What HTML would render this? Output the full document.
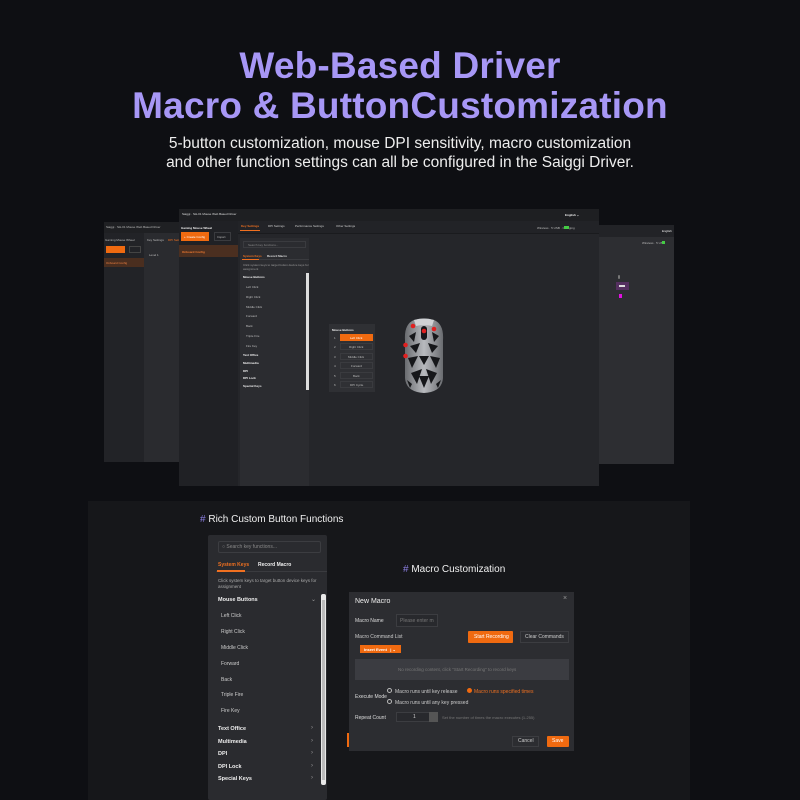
<!DOCTYPE html>
<html><head><meta charset="utf-8"><style>
*{margin:0;padding:0;box-sizing:border-box}
body{width:800px;height:800px;background:#0e0f13;position:relative;overflow:hidden;font-family:"Liberation Sans",sans-serif;color:#ddd}
.a{position:absolute}
.t{position:absolute;white-space:nowrap}
h1{position:absolute;left:0;width:800px;text-align:center;color:#a797f6;font-size:37px;font-weight:bold;line-height:40px;letter-spacing:0.2px}
.sub{position:absolute;left:0;width:800px;text-align:center;color:#eee;font-size:15.5px;line-height:19px}
.s{font-size:3px;color:#bbb}
.d7{font-size:5px;color:#ccc}
.bb{font-size:5.5px;color:#eee;font-weight:bold}
.chev{position:absolute;font-size:6px;color:#999}
</style></head><body>
<h1 style="top:46px">Web-Based Driver</h1>
<h1 style="top:86px">Macro &amp; ButtonCustomization</h1>
<div class="sub" style="top:134px">5-button customization, mouse DPI sensitivity, macro customization</div>
<div class="sub" style="top:153px">and other function settings can all be configured in the Saiggi Driver.</div>

<!-- left back window -->
<div class="a" style="left:104px;top:222px;width:80px;height:240px;background:#2a2b2f"></div>
<div class="a" style="left:104px;top:222px;width:80px;height:11px;background:#1f2023"></div>
<div class="t s" style="left:106px;top:225px">Saiggi · SH-01 Mouse Web Based Driver</div>
<div class="a" style="left:104px;top:233px;width:40px;height:229px;background:#222327"></div>
<div class="t s" style="left:105px;top:238px">Gaming Mouse Wheel</div>
<div class="a" style="left:106px;top:246px;width:19px;height:7px;background:#f06a10"></div>
<div class="a" style="left:129px;top:246px;width:12px;height:7px;border:1px solid #444"></div>
<div class="a" style="left:104px;top:258px;width:40px;height:9px;background:#4a2e1f"></div>
<div class="t s" style="left:106px;top:261px;color:#f08040">Onboard Config</div>
<div class="t s" style="left:147px;top:238px">Key Settings</div>
<div class="t s" style="left:168px;top:238px;color:#f07020">DPI Settings</div>
<div class="t s" style="left:149px;top:253px">Level 1</div>

<!-- right back window -->
<div class="a" style="left:593px;top:225px;width:81px;height:239px;background:#2d2e32"></div>
<div class="a" style="left:593px;top:225px;width:81px;height:12px;background:#222327"></div>
<div class="t s" style="left:662px;top:229px;color:#eee">English</div>
<div class="t s" style="left:642px;top:241px">Wireless · 5 USB</div>
<div class="a" style="left:662px;top:241px;width:3px;height:3px;background:#4c4"></div>
<div class="a" style="left:616px;top:282px;width:13px;height:8px;background:#553060"></div>
<div class="a" style="left:619px;top:285px;width:6px;height:2px;background:#ddd"></div>
<div class="a" style="left:618px;top:275px;width:2px;height:4px;background:#777;border-radius:1px"></div>
<div class="a" style="left:619px;top:294px;width:3px;height:4px;background:#e010e0"></div>

<!-- main window -->
<div class="a" style="left:179px;top:209px;width:420px;height:277px;background:#25262a"></div>
<div class="a" style="left:179px;top:209px;width:420px;height:12px;background:#1e1f22"></div>
<div class="t s" style="left:182px;top:212px;color:#ddd">Saiggi · SH-01 Mouse Web Based Driver</div>
<div class="t s" style="left:565px;top:213px;color:#eee;font-weight:bold">English ⌄</div>
<div class="a" style="left:179px;top:221px;width:420px;height:13px;background:#222327;border-bottom:1px solid #1a1b1e"></div>
<div class="a" style="left:179px;top:221px;width:59px;height:265px;background:#202125"></div>
<div class="t s" style="left:181px;top:226px;color:#eee;font-weight:bold">Gaming Mouse Wheel</div>
<div class="a" style="left:181px;top:232px;width:28px;height:9px;background:#f06a10"></div>
<div class="t s" style="left:184px;top:235px;color:#fff">+ Create Config</div>
<div class="a" style="left:214px;top:232px;width:17px;height:9px;border:1px solid #3a3b3f"></div>
<div class="t s" style="left:217px;top:235px">Import</div>
<div class="a" style="left:179px;top:245px;width:59px;height:12px;background:#4b2f20"></div>
<div class="t s" style="left:182px;top:250px;color:#f07a30;font-weight:bold">Onboard Config</div>
<div class="t s" style="left:241px;top:224px;color:#f07020;font-weight:bold">Key Settings</div>
<div class="a" style="left:240px;top:230px;width:20px;height:1px;background:#f07020"></div>
<div class="t s" style="left:268px;top:224px;color:#ccc">DPI Settings</div>
<div class="t s" style="left:295px;top:224px;color:#ccc">Performance Settings</div>
<div class="t s" style="left:336px;top:224px;color:#ccc">Other Settings</div>
<div class="t s" style="left:537px;top:226px">Wireless · 5 USB · Charging</div>
<div class="a" style="left:564px;top:226px;width:5px;height:3px;background:#4c4"></div>
<!-- key panel -->
<div class="a" style="left:240px;top:238px;width:69px;height:248px;background:#2b2c30"></div>
<div class="a" style="left:243px;top:241px;width:63px;height:7px;border:1px solid #3a3b3f"></div>
<div class="t s" style="left:248px;top:243px;color:#888">Search key functions...</div>
<div class="t s" style="left:243px;top:254px;color:#f07020;font-weight:bold">System Keys</div>
<div class="t s" style="left:267px;top:254px;color:#ddd;font-weight:bold">Record Macro</div>
<div class="a" style="left:242px;top:259px;width:67px;height:1px;background:#3a3b3f"></div>
<div class="a" style="left:242px;top:259px;width:17px;height:1px;background:#f07020"></div>
<div class="t s" style="left:243px;top:263px;color:#999">Click system keys to target button device keys for<br>assignment</div>
<div class="t s" style="left:243px;top:275px;color:#eee;font-weight:bold">Mouse Buttons</div>
<div class="t s" style="left:246px;top:285px">Left Click</div>
<div class="t s" style="left:246px;top:295px">Right Click</div>
<div class="t s" style="left:246px;top:305px">Middle Click</div>
<div class="t s" style="left:246px;top:314px">Forward</div>
<div class="t s" style="left:246px;top:324px">Back</div>
<div class="t s" style="left:246px;top:334px">Triple Fire</div>
<div class="t s" style="left:246px;top:344px">Fire Key</div>
<div class="t s" style="left:243px;top:353px;color:#eee;font-weight:bold">Text Office</div>
<div class="t s" style="left:243px;top:361px;color:#eee;font-weight:bold">Multimedia</div>
<div class="t s" style="left:243px;top:369px;color:#eee;font-weight:bold">DPI</div>
<div class="t s" style="left:243px;top:376px;color:#eee;font-weight:bold">DPI Lock</div>
<div class="t s" style="left:243px;top:384px;color:#eee;font-weight:bold">Special Keys</div>
<div class="a" style="left:306px;top:273px;width:3px;height:117px;background:#ddd"></div>
<!-- popup -->
<div class="a" style="left:329px;top:324px;width:46px;height:68px;background:#2f3034"></div>
<div class="t s" style="left:332px;top:328px;color:#eee;font-weight:bold">Mouse Buttons</div>
<div class="a" style="left:340px;top:334px;width:33px;height:7px;background:#f06a10"></div>
<div class="t s" style="left:350px;top:336px;color:#fff">Left Click</div>
<div class="t s" style="left:334px;top:336px">1</div>
<div class="a" style="left:340px;top:343px;width:33px;height:7px;border:1px solid #3a3b3f"></div><div class="t s" style="left:334px;top:345px">2</div><div class="t s" style="left:349px;top:345px">Right Click</div>
<div class="a" style="left:340px;top:353px;width:33px;height:7px;border:1px solid #3a3b3f"></div><div class="t s" style="left:334px;top:355px">3</div><div class="t s" style="left:348px;top:355px">Middle Click</div>
<div class="a" style="left:340px;top:362px;width:33px;height:7px;border:1px solid #3a3b3f"></div><div class="t s" style="left:334px;top:364px">4</div><div class="t s" style="left:351px;top:364px">Forward</div>
<div class="a" style="left:340px;top:372px;width:33px;height:7px;border:1px solid #3a3b3f"></div><div class="t s" style="left:334px;top:374px">5</div><div class="t s" style="left:353px;top:374px">Back</div>
<div class="a" style="left:340px;top:381px;width:33px;height:7px;border:1px solid #3a3b3f"></div><div class="t s" style="left:334px;top:383px">6</div><div class="t s" style="left:350px;top:383px">DPI Cycle</div>
<!-- mouse -->
<svg class="a" style="left:402px;top:318px" width="44" height="76" viewBox="0 0 44 76">
<defs><linearGradient id="g" x1="0" x2="1"><stop offset="0" stop-color="#6a6c70"/><stop offset="0.5" stop-color="#b8babe"/><stop offset="1" stop-color="#6a6c70"/></linearGradient></defs>
<path d="M12 2 Q22 -1 32 2 Q42 6 41 22 L41 60 Q40 74 22 75 Q4 74 3 60 L3 22 Q2 6 12 2Z" fill="url(#g)"/>
<g fill="#16171a">
<path d="M7 18 L14 14 L12 24Z"/><path d="M37 18 L30 14 L32 24Z"/>
<path d="M8 28 L18 25 L14 35Z"/><path d="M36 28 L26 25 L30 35Z"/>
<path d="M6 40 L16 38 L10 50Z"/><path d="M38 40 L28 38 L34 50Z"/>
<path d="M17 38 L27 38 L22 47Z"/><path d="M9 55 L20 51 L15 66Z"/>
<path d="M35 55 L24 51 L29 66Z"/><path d="M17 58 L27 58 L22 70Z"/>
<path d="M5 62 L10 66 L8 70Z"/><path d="M39 62 L34 66 L36 70Z"/>
<rect x="19" y="8" width="6" height="14" rx="3"/>
</g>
<path d="M12 2 Q22 -1 32 2 L30 8 Q22 6 14 8Z" fill="#d0d2d5"/>
<g fill="#e02020"><circle cx="11" cy="8" r="2.3"/><circle cx="32" cy="11" r="2.3"/><circle cx="22" cy="13" r="2.3"/><circle cx="3.5" cy="27" r="2.3"/><circle cx="3.5" cy="38" r="2.3"/></g>
</svg>

<!-- bottom panel -->
<div class="a" style="left:88px;top:501px;width:602px;height:299px;background:#16171a"></div>
<div class="t" style="left:200px;top:514px;font-size:10px;color:#f0f0f0"><span style="color:#8a7ee0">#</span> Rich Custom Button Functions</div>
<div class="t" style="left:403px;top:564px;font-size:10px;color:#f0f0f0"><span style="color:#8a7ee0">#</span> Macro Customization</div>
<div class="a" style="left:208px;top:535px;width:119px;height:265px;background:#2a2b2f;border-radius:2px"></div>
<div class="a" style="left:218px;top:541px;width:103px;height:12px;border:1px solid #3c3d41;border-radius:2px"></div>
<div class="t" style="left:222px;top:544px;font-size:5px;color:#888">○ Search key functions...</div>
<div class="t d7" style="left:218px;top:562px;color:#f07020;font-weight:bold">System Keys</div>
<div class="t d7" style="left:258px;top:562px;color:#eee;font-weight:bold">Record Macro</div>
<div class="a" style="left:216px;top:571px;width:111px;height:1px;background:#3a3b3f"></div>
<div class="a" style="left:217px;top:570px;width:28px;height:2px;background:#f07020"></div>
<div class="t" style="left:218px;top:578px;font-size:4.5px;color:#aaa;line-height:6px">Click system keys to target button device keys for<br>assignment</div>
<div class="t bb" style="left:218px;top:597px">Mouse Buttons</div>
<div class="chev" style="left:311px;top:596px">⌄</div>
<div class="t d7" style="left:221px;top:613px">Left Click</div>
<div class="t d7" style="left:221px;top:629px">Right Click</div>
<div class="t d7" style="left:221px;top:645px">Middle Click</div>
<div class="t d7" style="left:221px;top:661px">Forward</div>
<div class="t d7" style="left:221px;top:677px">Back</div>
<div class="t d7" style="left:221px;top:692px">Triple Fire</div>
<div class="t d7" style="left:221px;top:708px">Fire Key</div>
<div class="t bb" style="left:218px;top:726px">Text Office</div>
<div class="t bb" style="left:218px;top:739px">Multimedia</div>
<div class="t bb" style="left:218px;top:751px">DPI</div>
<div class="t bb" style="left:218px;top:764px">DPI Lock</div>
<div class="t bb" style="left:218px;top:776px">Special Keys</div>
<div class="chev" style="left:311px;top:725px">›</div><div class="chev" style="left:311px;top:738px">›</div><div class="chev" style="left:311px;top:750px">›</div><div class="chev" style="left:311px;top:763px">›</div><div class="chev" style="left:311px;top:775px">›</div>
<div class="a" style="left:321px;top:594px;width:5px;height:191px;background:#e8e8e8;border-radius:2px"></div>
<div class="a" style="left:322px;top:600px;width:3px;height:180px;background:#bbb"></div>

<!-- macro dialog -->
<div class="a" style="left:347px;top:733px;width:2px;height:14px;background:#f06a10"></div>
<div class="a" style="left:349px;top:592px;width:225px;height:159px;background:#2c2d31"></div>
<div class="t" style="left:355px;top:598px;font-size:7px;color:#eee">New Macro</div>
<div class="t" style="left:563px;top:595px;font-size:7px;color:#999">×</div>
<div class="t" style="left:355px;top:618px;font-size:5px;color:#ddd">Macro Name</div>
<div class="a" style="left:396px;top:614px;width:42px;height:13px;border:1px solid #3c3d41;background:#28292d"></div>
<div class="t" style="left:400px;top:618px;font-size:5px;color:#777">Please enter m</div>
<div class="t" style="left:355px;top:634px;font-size:5px;color:#ccc">Macro Command List</div>
<div class="a" style="left:468px;top:631px;width:45px;height:12px;background:#f06a10;border-radius:1px"></div>
<div class="t" style="left:474px;top:634px;font-size:5px;color:#fff">Start Recording</div>
<div class="a" style="left:520px;top:631px;width:49px;height:12px;border:1px solid #3c3d41"></div>
<div class="t" style="left:525px;top:634px;font-size:5px;color:#ccc">Clear Commands</div>
<div class="a" style="left:360px;top:645px;width:41px;height:8px;background:#f06a10"></div>
<div class="t" style="left:364px;top:647px;font-size:4px;color:#fff;font-weight:bold">Insert Event &nbsp; | ⌄</div>
<div class="a" style="left:355px;top:659px;width:214px;height:21px;background:#3b3c41"></div>
<div class="t" style="left:398px;top:667px;font-size:4.5px;color:#777">No recording content, click "Start Recording" to record keys</div>
<div class="t" style="left:355px;top:694px;font-size:5px;color:#ddd">Execute Mode</div>
<div class="a" style="left:387px;top:688px;width:5px;height:5px;border:1px solid #bbb;border-radius:50%"></div>
<div class="t" style="left:395px;top:689px;font-size:5px;color:#ccc">Macro runs until key release</div>
<div class="a" style="left:467px;top:688px;width:5px;height:5px;border:1.5px solid #f06a10;border-radius:50%;background:#f06a10"></div>
<div class="t" style="left:474px;top:689px;font-size:5px;color:#f07020">Macro runs specified times</div>
<div class="a" style="left:387px;top:699px;width:5px;height:5px;border:1px solid #bbb;border-radius:50%"></div>
<div class="t" style="left:395px;top:700px;font-size:5px;color:#ccc">Macro runs until any key pressed</div>
<div class="t" style="left:355px;top:715px;font-size:5px;color:#ddd">Repeat Count</div>
<div class="a" style="left:396px;top:712px;width:42px;height:10px;border:1px solid #3c3d41;background:#28292d"></div>
<div class="t" style="left:413px;top:714px;font-size:5px;color:#ccc">1</div>
<div class="a" style="left:429px;top:712px;width:9px;height:10px;background:#555"></div>
<div class="t" style="left:442px;top:715px;font-size:4px;color:#777">Set the number of times the macro executes (1-255)</div>
<div class="a" style="left:512px;top:736px;width:27px;height:11px;border:1px solid #3c3d41"></div>
<div class="t" style="left:518px;top:738px;font-size:5px;color:#ccc">Cancel</div>
<div class="a" style="left:547px;top:736px;width:22px;height:11px;background:#f06a10;border-radius:1px"></div>
<div class="t" style="left:552px;top:738px;font-size:5px;color:#fff">Save</div>
</body></html>
